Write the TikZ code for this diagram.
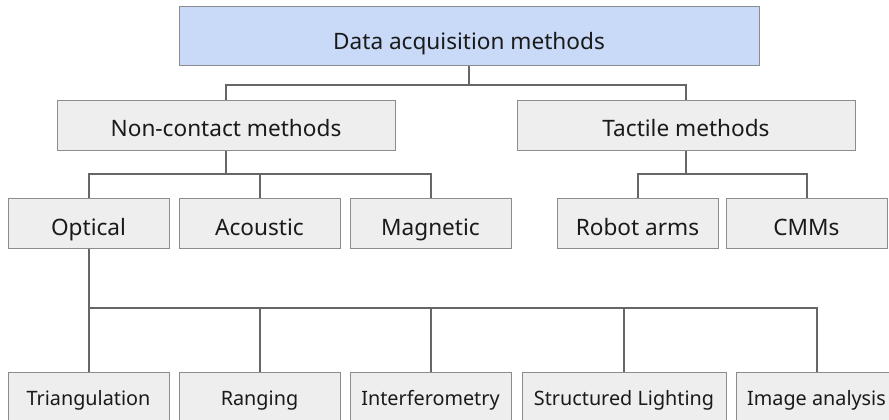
\documentclass[tikz,border=0pt]{standalone}
\usepackage{fontspec}
\setmainfont{Noto Sans}
\definecolor{topfill}{HTML}{C9DAF8}
\definecolor{boxfill}{HTML}{EEEEEE}
\definecolor{boxline}{HTML}{8C8C8C}
\definecolor{conn}{HTML}{666666}
\definecolor{txt}{HTML}{1A1A1A}
\begin{document}
\begin{tikzpicture}[x=1pt,y=-1pt,
  box/.style={draw=boxline, line width=1pt, fill=boxfill, inner sep=0pt, minimum height=50pt, text=txt, font=\fontsize{22.6}{26}\selectfont, text depth=0pt},
  topbox/.style={box, fill=topfill, minimum height=59pt, minimum width=580pt, text height=27pt},
  midbox/.style={box, minimum width=338pt, text height=22pt},
  leafbox/.style={box, minimum width=161pt, text height=24pt},
  smallbox/.style={box, font=\fontsize{19.8}{24}\selectfont, text height=16pt},
  link/.style={draw=conn, line width=2pt}]
\clip (0,0) rectangle (889,420);
\useasboundingbox (0,0) rectangle (889,420);
\node[topbox] (top) at (469,36.5) {Data acquisition methods};
\node[midbox] (nc) at (226,125) {Non-contact methods};
\node[midbox] (tac) at (686,125) {Tactile methods};
\node[leafbox] (opt) at (88.5,223) {Optical};
\node[leafbox] (aco) at (259.5,223) {Acoustic};
\node[leafbox] (mag) at (430.5,223) {Magnetic};
\node[leafbox] (rob) at (637.5,223) {Robot arms};
\node[leafbox] (cmm) at (806.5,223) {CMMs};
\node[smallbox, minimum width=161pt] (tri) at (88.5,397) {Triangulation};
\node[smallbox, minimum width=161pt] (ran) at (259.5,397) {Ranging};
\node[smallbox, minimum width=161pt] (int) at (430.5,397) {Interferometry};
\node[smallbox, minimum width=204pt] (str) at (624,397) {Structured Lighting};
\node[smallbox, minimum width=161pt] (img) at (816.5,397) {Image analysis};
\coordinate (j1) at (469,85);
\coordinate (j2) at (226,174);
\coordinate (j3) at (686,174);
\coordinate (j4) at (88.5,308);
\draw[link] (top.south) -- (j1);
\draw[link] (nc.north) |- (j1);
\draw[link] (tac.north) |- (j1);
\draw[link] (nc.south) -- (j2);
\draw[link] (opt.north) |- (j2);
\draw[link] (aco.north) |- (j2);
\draw[link] (mag.north) |- (j2);
\draw[link] (tac.south) -- (j3);
\draw[link] (rob.north) |- (j3);
\draw[link] (cmm.north) |- (j3);
\draw[link] (opt.south) -- (j4);
\draw[link] (tri.north) -- (j4);
\draw[link] (ran.north) |- (j4);
\draw[link] (int.north) |- (j4);
\draw[link] (str.north) |- (j4);
\draw[link] (img.north) |- (j4);
\end{tikzpicture}
\end{document}
